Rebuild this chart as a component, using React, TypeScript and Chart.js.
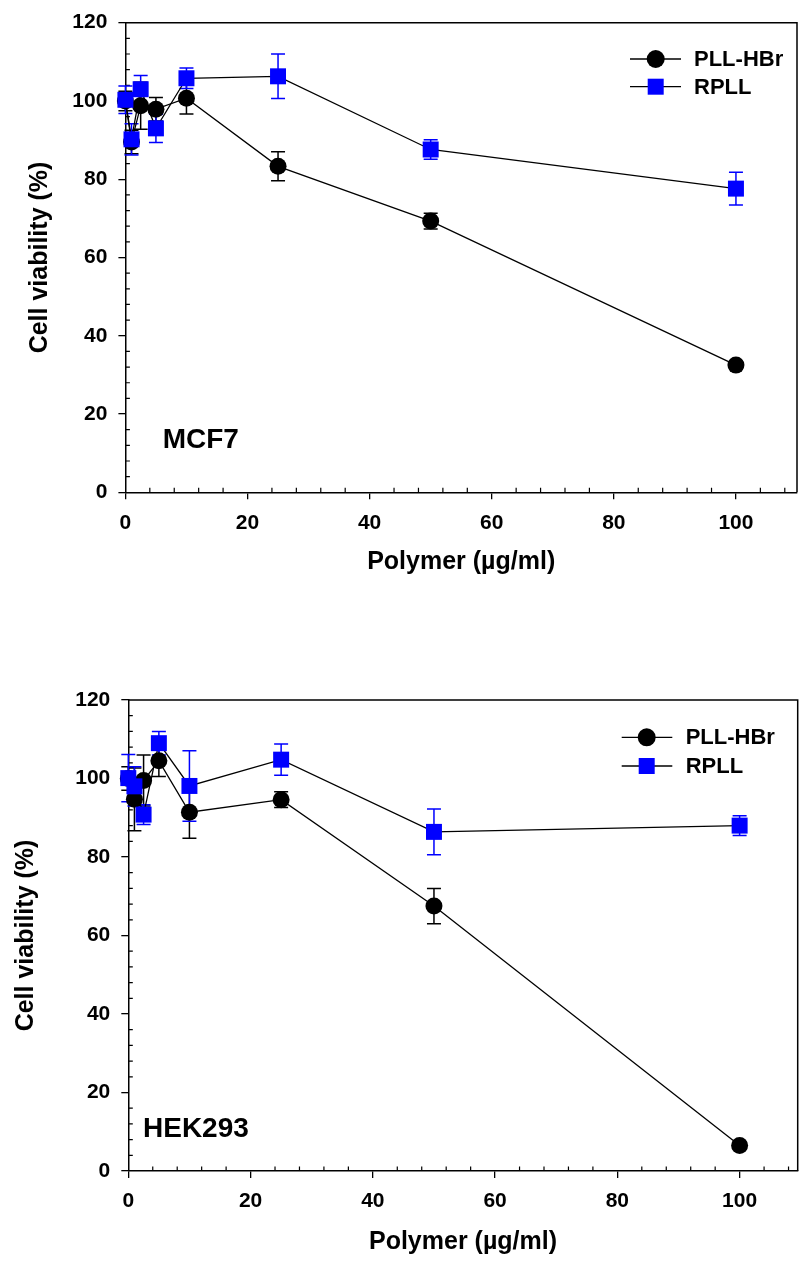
import React, { useEffect, useRef } from "react";
import { Chart, registerables } from "chart.js";

Chart.register(...registerables);

// ---------- data ----------
const concentrations = [0, 1, 2.5, 5, 10, 25, 50, 100];

const mcf7PllHbr = [100, 89.5, 98.8, 97.9, 100.7, 83.3, 69.3, 32.5];
const mcf7PllHbrErr = [2.5, 3, 6, 3, 4, 3.7, 2, 1];
const mcf7Rpll = [100.3, 90.2, 103, 93, 105.8, 106.3, 87.6, 77.6];
const mcf7RpllErr = [3.5, 4, 3.5, 3.6, 2.6, 5.7, 2.5, 4.2];

const hekPllHbr = [100, 94.7, 99.5, 104.5, 91.4, 94.6, 67.5, 6.5];
const hekPllHbrErr = [3, 8, 6.5, 4, 6.6, 2, 4.5, 0.8];
const hekRpll = [100.1, 98, 90.8, 109, 98.1, 104.8, 86.4, 88];
const hekRpllErr = [6, 5, 2.5, 3, 9, 4, 5.8, 2.5];

const xTickValues = [0, 20, 40, 60, 80, 100];
const yTickValues = [0, 20, 40, 60, 80, 100, 120];
const minorStep = 4;

const seriesNames = ["PLL-HBr", "RPLL"];
const yTitle = "Cell viability (%)";
const xTitle = "Polymer (µg/ml)";

const FONT = "'Liberation Sans', Arial, Helvetica, sans-serif";

// ---------- layout (page pixels) ----------
const panels = [
  {
    name: "MCF7",
    pll: mcf7PllHbr,
    pllErr: mcf7PllHbrErr,
    rpll: mcf7Rpll,
    rpllErr: mcf7RpllErr,
    canvasTop: 0,
    canvasHeight: 630,
    area: { left: 125.4, top: 22.7, right: 797, bottom: 492.3 },
    xMax: 110,
    yTitleX: 40,
    xTitleY: 562,
    legend: { x0: 630, x1: 681, mx: 655.7, tx: 694, rows: [59, 86.7] },
    label: { x: 162.7, y: 448.3 },
  },
  {
    name: "HEK293",
    pll: hekPllHbr,
    pllErr: hekPllHbrErr,
    rpll: hekRpll,
    rpllErr: hekRpllErr,
    canvasTop: 630,
    canvasHeight: 636,
    area: { left: 128.3, top: 700, right: 797.7, bottom: 1171 },
    xMax: 109.5,
    yTitleX: 26,
    xTitleY: 1242,
    legend: { x0: 621.7, x1: 672.3, mx: 646.7, tx: 685.7, rows: [737.3, 766] },
    label: { x: 143, y: 1137 },
  },
];

function makeChart(canvas: HTMLCanvasElement, p: any) {
  const W = 799;
  const top = p.canvasTop;
  const H = p.canvasHeight;

  const decorPlugin = {
    id: "decor",
    beforeDatasetsDraw(chart: any) {
      const { ctx, chartArea } = chart;
      const xs = chart.scales.x;
      const ys = chart.scales.y;
      ctx.save();
      // frame (top + right)
      ctx.strokeStyle = "#000";
      ctx.lineWidth = 1.5;
      ctx.beginPath();
      ctx.moveTo(chartArea.left, chartArea.top);
      ctx.lineTo(chartArea.right, chartArea.top);
      ctx.lineTo(chartArea.right, chartArea.bottom);
      ctx.stroke();
      // minor ticks (inward)
      ctx.lineWidth = 1.2;
      ctx.beginPath();
      for (let v = minorStep; v <= p.xMax; v += minorStep) {
        if (v % 20 === 0) continue;
        const px = xs.getPixelForValue(v);
        ctx.moveTo(px, chartArea.bottom);
        ctx.lineTo(px, chartArea.bottom - 4.5);
      }
      for (let v = minorStep; v < 120; v += minorStep) {
        if (v % 20 === 0) continue;
        const py = ys.getPixelForValue(v);
        ctx.moveTo(chartArea.left, py);
        ctx.lineTo(chartArea.left + 4.5, py);
      }
      ctx.stroke();
      // error bars
      chart.data.datasets.forEach((ds: any) => {
        ctx.strokeStyle = ds.errorColor;
        ctx.lineWidth = 1.5;
        ctx.beginPath();
        ds.data.forEach((pt: any, i: number) => {
          const e = ds.errors[i];
          const px = xs.getPixelForValue(pt.x);
          const hi = ys.getPixelForValue(pt.y + e);
          const lo = ys.getPixelForValue(pt.y - e);
          ctx.moveTo(px, hi);
          ctx.lineTo(px, lo);
          ctx.moveTo(px - 7, hi);
          ctx.lineTo(px + 7, hi);
          ctx.moveTo(px - 7, lo);
          ctx.lineTo(px + 7, lo);
        });
        ctx.stroke();
      });
      ctx.restore();
    },
    afterDraw(chart: any) {
      const { ctx } = chart;
      ctx.save();
      const lg = p.legend;
      // legend
      seriesNames.forEach((name, i) => {
        const y = lg.rows[i] - top;
        ctx.strokeStyle = "#000";
        ctx.lineWidth = 1.3;
        ctx.beginPath();
        ctx.moveTo(lg.x0, y);
        ctx.lineTo(lg.x1, y);
        ctx.stroke();
        if (i === 0) {
          ctx.fillStyle = "#000";
          ctx.beginPath();
          ctx.arc(lg.mx, y, 9, 0, Math.PI * 2);
          ctx.fill();
        } else {
          ctx.fillStyle = "#0000ff";
          ctx.fillRect(lg.mx - 8, y - 8, 16, 16);
        }
        ctx.fillStyle = "#000";
        ctx.font = `bold 22px ${FONT}`;
        ctx.textAlign = "left";
        ctx.textBaseline = "middle";
        ctx.fillText(name, lg.tx, y + 1);
      });
      // panel label
      ctx.fillStyle = "#000";
      ctx.font = `bold 28px ${FONT}`;
      ctx.textAlign = "left";
      ctx.textBaseline = "alphabetic";
      ctx.fillText(p.name, p.label.x, p.label.y - top);
      ctx.restore();
    },
  };

  const toPts = (ys: number[]) => concentrations.map((x, i) => ({ x, y: ys[i] }));

  return new Chart(canvas, {
    type: "line",
    data: {
      datasets: [
        {
          label: seriesNames[0],
          data: toPts(p.pll),
          errors: p.pllErr,
          errorColor: "#000",
          borderColor: "#000",
          borderWidth: 1.3,
          pointStyle: "circle",
          pointRadius: 8.5,
          pointBackgroundColor: "#000",
          pointBorderColor: "#000",
          pointBorderWidth: 0,
          clip: false,
          order: 2,
        } as any,
        {
          label: seriesNames[1],
          data: toPts(p.rpll),
          errors: p.rpllErr,
          errorColor: "#0000ff",
          borderColor: "#000",
          borderWidth: 1.3,
          pointStyle: "rect",
          pointRadius: 11.3,
          pointBackgroundColor: "#0000ff",
          pointBorderColor: "#0000ff",
          pointBorderWidth: 0,
          clip: false,
          order: 1,
        } as any,
      ],
    },
    options: {
      responsive: false,
      animation: false,
      events: [],
      layout: {
        autoPadding: false,
        padding: { left: 0, top: p.area.top - top, right: W - p.area.right, bottom: 0 },
      },
      plugins: { legend: { display: false }, tooltip: { enabled: false } },
      scales: {
        x: {
          type: "linear",
          min: 0,
          max: p.xMax,
          afterBuildTicks: (s: any) => {
            s.ticks = xTickValues.map((v) => ({ value: v }));
          },
          afterFit: (s: any) => {
            s.height = top + H - p.area.bottom;
            s.paddingLeft = 0;
            s.paddingRight = 0;
          },
          ticks: {
            color: "#000",
            font: { family: FONT, size: 21, weight: "bold" },
            padding: 11,
            maxRotation: 0,
            autoSkip: false,
          },
          grid: { drawOnChartArea: false, drawTicks: true, tickLength: 7, color: "#000", lineWidth: 1.3 },
          border: { display: true, color: "#000", width: 1.5 },
          title: {
            display: true,
            text: xTitle,
            color: "#000",
            font: { family: FONT, size: 25, weight: "bold" },
            padding: { top: 0, bottom: H - (p.xTitleY - top) - 15 },
          },
        },
        y: {
          type: "linear",
          min: 0,
          max: 120,
          afterBuildTicks: (s: any) => {
            s.ticks = yTickValues.map((v) => ({ value: v }));
          },
          afterFit: (s: any) => {
            s.width = p.area.left;
            s.paddingTop = 0;
            s.paddingBottom = 0;
          },
          ticks: {
            color: "#000",
            font: { family: FONT, size: 21, weight: "bold" },
            padding: 11,
          },
          grid: { drawOnChartArea: false, drawTicks: true, tickLength: 7, color: "#000", lineWidth: 1.3 },
          border: { display: true, color: "#000", width: 1.5 },
          title: {
            display: true,
            text: yTitle,
            color: "#000",
            font: { family: FONT, size: 25, weight: "bold" },
            padding: { top: p.yTitleX - 15, bottom: 0 },
          },
        },
      },
    } as any,
    plugins: [decorPlugin],
  });
}

function Panel({ p }: { p: any }) {
  const ref = useRef<HTMLCanvasElement | null>(null);
  useEffect(() => {
    if (!ref.current) return;
    const chart = makeChart(ref.current, p);
    return () => chart.destroy();
  }, [p]);
  return (
    <canvas
      ref={ref}
      width={799}
      height={p.canvasHeight}
      style={{
        position: "absolute",
        left: 0,
        top: p.canvasTop,
        width: 799,
        height: p.canvasHeight,
        display: "block",
      }}
    />
  );
}

export default function App() {
  return (
    <div
      style={{
        position: "absolute",
        left: 0,
        top: 0,
        width: 799,
        height: 1266,
        background: "#fff",
        overflow: "hidden",
      }}
    >
      {panels.map((p) => (
        <Panel key={p.name} p={p} />
      ))}
    </div>
  );
}
